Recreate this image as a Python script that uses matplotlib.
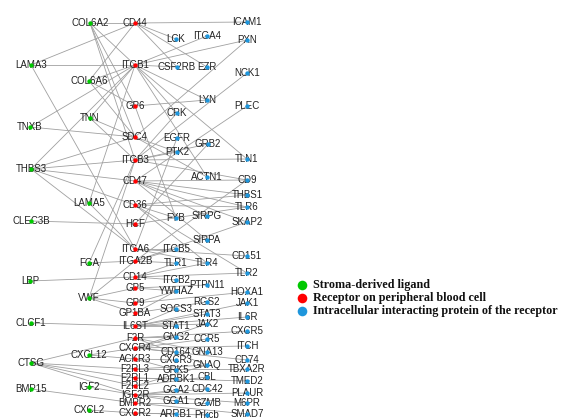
import matplotlib.pyplot as plt

# node layout (pixel coordinates of the network drawing)
ligands = {
    "COL6A2": (90, 23), "LAMA3": (31, 65), "COL6A6": (89, 81), "TNN": (90, 118),
    "TNXB": (30, 127), "THBS3": (31, 169), "LAMA5": (89, 203), "CLEC3B": (31, 221),
    "FGA": (89, 263), "LBP": (30, 281), "VWF": (89, 298), "CLCF1": (31, 323),
    "CXCL12": (89, 355), "CTSG": (31, 363), "IGF2": (89, 387), "BMP15": (31, 389),
    "CXCL2": (89, 410),
}
receptors = {
    "CD44": (135, 23), "ITGB1": (135, 65), "GP6": (135, 106), "SDC4": (135, 137),
    "ITGB3": (135, 160), "CD47": (135, 181), "CD36": (135, 205), "HCF": (135, 224),
    "ITGA6": (135, 249), "ITGA2B": (135, 261), "CD14": (135, 277), "GP5": (135, 288),
    "GP9": (135, 303), "GP1BA": (135, 313), "IL6ST": (135, 326), "F2R": (135, 338),
    "CXCR4": (135, 348), "ACKR3": (135, 359), "F2RL3": (135, 369), "F2RL1": (135, 378),
    "F2RL2": (135, 386), "IGF2R": (135, 395), "BMPR2": (135, 403), "CXCR2": (135, 413),
}
proteins = {
    "LCK": (176, 39), "CSF2RB": (177, 67), "CRK": (177, 113), "EGFR": (177, 138),
    "PTK2": (177, 152), "FYB": (176, 218), "ITGB5": (176, 249), "TLR1": (176, 263),
    "ITGB2": (176, 280), "YWHAZ": (176, 291), "SOCS3": (176, 309), "STAT1": (176, 326),
    "GNG2": (176, 337), "CD164": (176, 352), "CXCR3": (176, 360), "GRK5": (176, 370),
    "ADRBK1": (176, 379), "GGA2": (176, 390), "GGA1": (176, 401), "ARRB1": (176, 414),
    "ITGA4": (207, 36), "EZR": (207, 67), "LYN": (207, 100), "GRB2": (208, 144),
    "ACTN1": (207, 177), "SIRPG": (207, 216), "SIRPA": (207, 240), "TLR4": (207, 263),
    "PTPN11": (207, 285), "RGS2": (207, 302), "STAT3": (207, 314), "JAK2": (207, 324),
    "CCR5": (207, 339), "GNA13": (207, 352), "GNAQ": (207, 365), "CBL": (207, 377),
    "CDC42": (207, 389), "GZMB": (207, 403), "Prkcb": (207, 415),
    "ICAM1": (247, 22), "PXN": (247, 40), "NCK1": (247, 73), "PLEC": (247, 106),
    "TLN1": (247, 159), "CD9": (247, 180), "THBS1": (247, 195), "TLR6": (247, 207),
    "SKAP2": (247, 222), "CD151": (247, 256), "TLR2": (247, 273), "HOXA1": (247, 292),
    "JAK1": (247, 303), "IL6R": (247, 317), "CXCR5": (247, 331), "ITCH": (247, 346),
    "CD74": (247, 360), "TBXA2R": (247, 369), "TMED2": (247, 381), "PLAUR": (247, 393),
    "M6PR": (247, 403), "SMAD7": (247, 414),
}

edges = [
    ("COL6A2", "CD44"), ("COL6A2", "ITGB1"), ("COL6A2", "SDC4"), ("COL6A2", "ITGB3"),
    ("COL6A2", "GP6"), ("LAMA3", "CD44"), ("LAMA3", "ITGB1"), ("LAMA3", "ITGA6"),
    ("COL6A6", "CD44"), ("COL6A6", "ITGB1"), ("COL6A6", "SDC4"), ("COL6A6", "GP6"),
    ("TNXB", "ITGB1"), ("TNXB", "SDC4"), ("TNN", "SDC4"), ("TNN", "ITGB1"),
    ("TNN", "ITGB3"), ("THBS3", "ITGB1"), ("THBS3", "ITGB3"), ("THBS3", "CD47"),
    ("THBS3", "CD36"), ("THBS3", "ITGA6"), ("THBS3", "SDC4"), ("LAMA5", "ITGB1"),
    ("LAMA5", "ITGA6"), ("CLEC3B", "HCF"), ("FGA", "ITGA2B"), ("FGA", "ITGB3"),
    ("LBP", "CD14"), ("VWF", "GP5"), ("VWF", "GP9"), ("VWF", "GP1BA"),
    ("VWF", "ITGB3"), ("VWF", "ITGA2B"), ("CLCF1", "IL6ST"), ("CXCL12", "CXCR4"),
    ("CXCL12", "ACKR3"), ("CTSG", "F2R"), ("CTSG", "F2RL3"), ("CTSG", "F2RL1"),
    ("CTSG", "F2RL2"), ("CTSG", "IGF2R"), ("IGF2", "IGF2R"), ("BMP15", "BMPR2"),
    ("CXCL2", "CXCR2"),
    ("CD44", "ICAM1"), ("CD44", "LCK"), ("CD44", "EZR"), ("CD44", "CSF2RB"),
    ("ITGB1", "ITGA4"), ("ITGB1", "PXN"), ("ITGB1", "CSF2RB"), ("ITGB1", "LYN"),
    ("ITGB1", "TLN1"), ("ITGB1", "CRK"), ("ITGB1", "ACTN1"), ("GP6", "LYN"),
    ("GP6", "FYB"), ("SDC4", "PXN"), ("SDC4", "PTK2"), ("SDC4", "ACTN1"),
    ("ITGB3", "TLN1"), ("ITGB3", "PTK2"), ("ITGB3", "CRK"), ("ITGB3", "GRB2"),
    ("ITGB3", "NCK1"), ("ITGB3", "CD9"), ("CD47", "SIRPG"), ("CD47", "SIRPA"),
    ("CD47", "THBS1"), ("CD47", "CD9"), ("CD47", "TLR6"), ("CD47", "PLEC"),
    ("CD47", "SKAP2"), ("CD36", "TLR6"), ("CD36", "TLR2"), ("CD36", "TLR4"),
    ("CD36", "THBS1"), ("CD36", "FYB"), ("HCF", "GRB2"), ("HCF", "TLR6"),
    ("ITGA6", "ITGB5"), ("ITGA6", "CD151"), ("ITGA6", "EGFR"), ("ITGA6", "TLR4"),
    ("ITGA2B", "ITGB5"), ("ITGA2B", "TLR1"), ("ITGA2B", "CD9"), ("ITGA2B", "SKAP2"),
    ("CD14", "TLR2"), ("CD14", "TLR4"), ("CD14", "TLR1"), ("CD14", "ITGB2"),
    ("GP5", "YWHAZ"), ("GP5", "PTPN11"), ("GP9", "YWHAZ"), ("GP9", "HOXA1"),
    ("GP1BA", "YWHAZ"), ("GP1BA", "RGS2"), ("IL6ST", "SOCS3"), ("IL6ST", "STAT3"),
    ("IL6ST", "JAK1"), ("IL6ST", "JAK2"), ("IL6ST", "IL6R"), ("IL6ST", "STAT1"),
    ("F2R", "GNA13"), ("F2R", "GNAQ"), ("F2R", "GNG2"), ("F2R", "CXCR5"),
    ("CXCR4", "CCR5"), ("CXCR4", "ITCH"), ("CXCR4", "CD74"), ("CXCR4", "CD164"),
    ("CXCR4", "JAK2"), ("CXCR4", "GNG2"), ("ACKR3", "CXCR3"), ("ACKR3", "GRK5"),
    ("F2RL3", "GNAQ"), ("F2RL3", "TBXA2R"), ("F2RL1", "ADRBK1"), ("F2RL1", "TMED2"),
    ("F2RL2", "CBL"), ("F2RL2", "GNAQ"), ("IGF2R", "GGA2"), ("IGF2R", "GGA1"),
    ("IGF2R", "M6PR"), ("IGF2R", "PLAUR"), ("IGF2R", "CDC42"), ("BMPR2", "SMAD7"),
    ("BMPR2", "GZMB"), ("CXCR2", "ARRB1"), ("CXCR2", "Prkcb"),
]

groups = [
    ("Stroma-derived ligand", ligands, "#00c800"),
    ("Receptor on peripheral blood cell", receptors, "#ff0000"),
    ("Intracellular interacting protein of the receptor", proteins, "#1e96dc"),
]

pos = {**ligands, **receptors, **proteins}

fig = plt.figure(figsize=(5.62, 4.19), dpi=100)
ax = fig.add_axes([0, 0, 1, 1])
ax.set_xlim(0, 562)
ax.set_ylim(419, 0)
ax.axis("off")

for a, b in edges:
    (x1, y1), (x2, y2) = pos[a], pos[b]
    ax.plot([x1, x2], [y1, y2], color="#a0a0a0", lw=0.6, zorder=1)

for name, nodes, col in groups:
    for lab, (x, y) in nodes.items():
        ax.text(x, y, lab, ha="center", va="center", fontsize=7.0,
                family="Liberation Sans", color="#222222", zorder=2)
    xs = [p[0] for p in nodes.values()]
    ys = [p[1] for p in nodes.values()]
    ax.scatter(xs, ys, s=10, color=col, lw=0, zorder=3)

# legend
for i, (name, nodes, col) in enumerate(groups):
    y = 285 + i * 13
    ax.scatter([302], [y], s=48, color=col, lw=0)
    ax.text(313, y, name, ha="left", va="center", fontsize=8.7,
            family="Liberation Serif", weight="bold", color="#111111")

plt.savefig("out.png", dpi=100)
